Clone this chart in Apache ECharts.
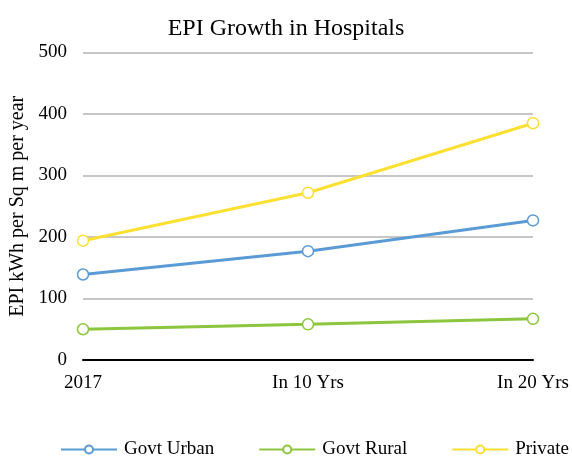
<!DOCTYPE html>
<html>
<head>
<meta charset="utf-8">
<script src="https://cdn.jsdelivr.net/npm/echarts@6/dist/echarts.min.js"></script>
<style>
  html, body { margin: 0; padding: 0; background: #fff; }
  #chart { width: 572px; height: 460px; }
</style>
</head>
<body>
<div id="chart"></div>
<script>
// Energy performance index projections by hospital type
const categories = ['2017', 'In 10 Yrs', 'In 20 Yrs'];
const govtUrban = [139, 177, 227];
const govtRural = [50, 58, 67];
const privateHosp = [194, 272, 385];
const yTicks = [0, 100, 200, 300, 400, 500];

const serif = '"Liberation Serif", "Times New Roman", serif';

function lineSeries(name, data, color) {
  return {
    name: name,
    type: 'line',
    data: data,
    symbol: 'circle',
    symbolSize: 11,
    lineStyle: { color: color, width: 3 },
    itemStyle: { color: '#fff', borderColor: color, borderWidth: 1.5 },
    emphasis: { disabled: true }
  };
}

const chart = echarts.init(document.getElementById('chart'), null, { renderer: 'canvas' });
chart.setOption({
  animation: false,
  backgroundColor: '#fff',
  title: {
    text: 'EPI Growth in Hospitals',
    left: 'center',
    top: 12,
    textStyle: { fontFamily: serif, fontSize: 24, fontWeight: 'normal', color: '#000' }
  },
  legend: {
    top: 440,
    left: 60,
    padding: 0,
    itemWidth: 56,
    itemHeight: 10,
    itemGap: 44,
    textStyle: { fontFamily: serif, fontSize: 19, color: '#000', padding: [0, 0, 0, 2] },
    data: ['Govt Urban', 'Govt Rural', 'Private']
  },
  grid: { left: 83, right: 39, top: 52.5, bottom: 100, containLabel: false, outerBoundsMode: 'none' },
  xAxis: {
    type: 'category',
    data: categories,
    boundaryGap: false,
    axisLine: { show: true, lineStyle: { color: '#000', width: 2 } },
    axisTick: { show: false },
    axisLabel: { fontFamily: serif, fontSize: 19, color: '#000', margin: 14 },
    splitLine: { show: false }
  },
  yAxis: {
    type: 'value',
    min: yTicks[0],
    max: yTicks[yTicks.length - 1],
    interval: 100,
    name: 'EPI kWh per Sq m per year',
    nameLocation: 'middle',
    nameGap: 55,
    nameTextStyle: { fontFamily: serif, fontSize: 20, color: '#000' },
    axisLine: { show: false },
    axisTick: { show: false },
    axisLabel: { fontFamily: serif, fontSize: 19, color: '#000', margin: 16 },
    splitLine: { lineStyle: { color: '#c6c6c6', width: 2 } }
  },
  series: [
    lineSeries('Govt Urban', govtUrban, '#5B9BD5'),
    lineSeries('Govt Rural', govtRural, '#8CC63E'),
    lineSeries('Private', privateHosp, '#FBE032')
  ]
});
</script>
</body>
</html>
